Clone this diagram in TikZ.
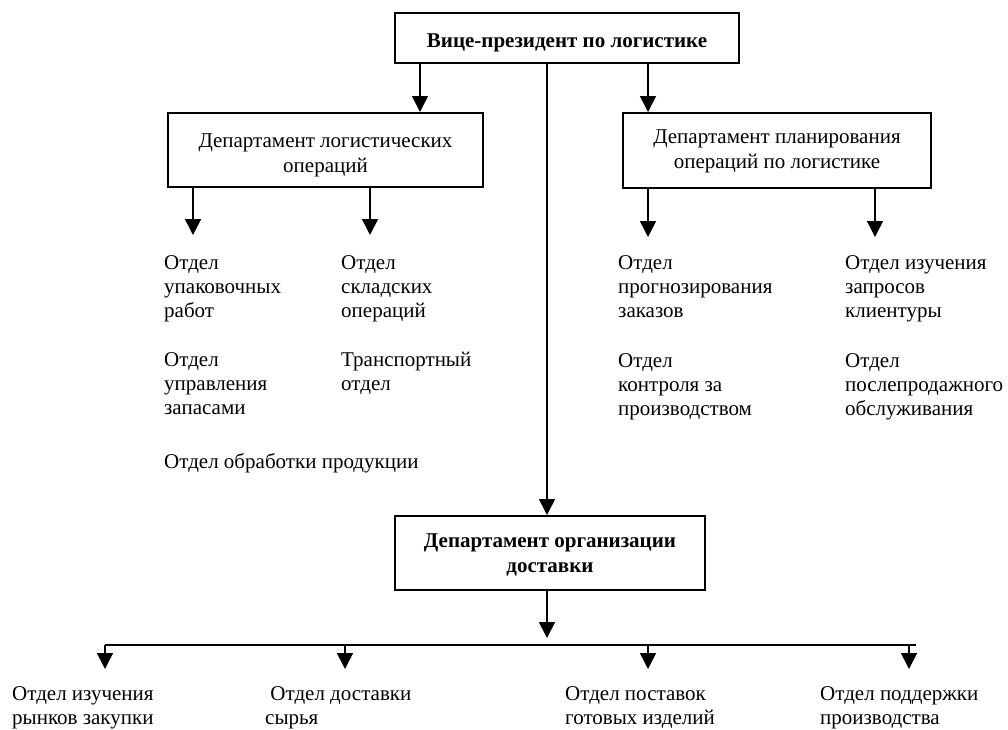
\documentclass[tikz,border=0pt]{standalone}
\usepackage{fontspec}
\setmainfont{Liberation Serif}
\usetikzlibrary{arrows.meta}

\begin{document}
\begin{tikzpicture}[x=1pt,y=-1pt,
  boite/.style={draw,line width=2pt,align=center,inner sep=0pt,font=\fontsize{21}{24.5}\selectfont},
  texte/.style={align=left,anchor=base west,inner sep=0pt,font=\fontsize{21}{24}\selectfont},
  fleche/.style={line width=1.6pt,-{Triangle[width=16pt,length=16pt]}},
  trait/.style={line width=1.6pt}]
  \useasboundingbox (0,0) rectangle (1008,729);

  % Boites
  \node[boite,minimum width=344,minimum height=50,text height=22,text depth=4,font=\fontsize{21}{24.5}\selectfont\bfseries] (vp) at (567,38) {Вице-президент по логистике};
  \node[boite,minimum width=315,minimum height=74,text height=50,text depth=6] (dlo) at (325.5,150) {Департамент логистических\\операций};
  \node[boite,minimum width=308,minimum height=75,text height=41,text depth=6] (dpl) at (777,150.5) {Департамент планирования\\операций по логистике};
  \node[boite,minimum width=310,minimum height=74,text height=44,text depth=6,font=\fontsize{21}{24.5}\selectfont\bfseries] (dod) at (550,553) {Департамент организации\\доставки};

  % Fleches du haut
  \coordinate (xg) at (420,0);
  \coordinate (xc) at (547,0);
  \coordinate (xd) at (648,0);
  \draw[fleche] (vp.south -| xg) -- (dlo.north -| xg);
  \draw[fleche] (vp.south -| xd) -- (dpl.north -| xd);
  \draw[fleche] (vp.south -| xc) -- (dod.north -| xc);

  % Fleches vers les sections
  \coordinate (a1) at (193,235);
  \coordinate (a2) at (370,235);
  \coordinate (a3) at (648,237);
  \coordinate (a4) at (875,237);
  \draw[fleche] (dlo.south -| a1) -- (a1);
  \draw[fleche] (dlo.south -| a2) -- (a2);
  \draw[fleche] (dpl.south -| a3) -- (a3);
  \draw[fleche] (dpl.south -| a4) -- (a4);

  % Sections (ancre sur la derniere ligne)
  \node[texte] (t11) at (164,317) {Отдел\\упаковочных\\работ};
  \node[texte] (t12) at (164,414) {Отдел\\управления\\запасами};
  \node[texte] (t13) at (164,468) {Отдел обработки продукции};
  \node[texte] (t21) at (341,317) {Отдел\\складских\\операций};
  \node[texte] (t22) at (341,390) {Транспортный\\отдел};
  \node[texte] (t31) at (618,317) {Отдел\\прогнозирования\\заказов};
  \node[texte] (t32) at (618,415) {Отдел\\контроля за\\производством};
  \node[texte] (t41) at (845,317) {Отдел изучения\\запросов\\клиентуры};
  \node[texte] (t42) at (845,415) {Отдел\\послепродажного\\обслуживания};

  % Bus du bas
  \coordinate (nd) at (547,638);
  \draw[fleche] (dod.south -| nd) -- (nd);
  \coordinate (busg) at (105,645);
  \coordinate (busd) at (916,645);
  \draw[trait] (busg) -- (busd);
  \foreach \x [count=\i] in {105,345,648,909} {
    \coordinate (h\i) at (\x,645);
    \coordinate (b\i) at (\x,669);
    \draw[fleche] (h\i) -- (b\i);
  }

  % Sections du bas
  \node[texte] (s1) at (12,724) {Отдел изучения\\рынков закупки};
  \node[texte] (s2) at (265,724) {\ Отдел доставки\\сырья};
  \node[texte] (s3) at (565,724) {Отдел поставок\\готовых изделий};
  \node[texte] (s4) at (820,724) {Отдел поддержки\\производства};
\end{tikzpicture}
\end{document}
